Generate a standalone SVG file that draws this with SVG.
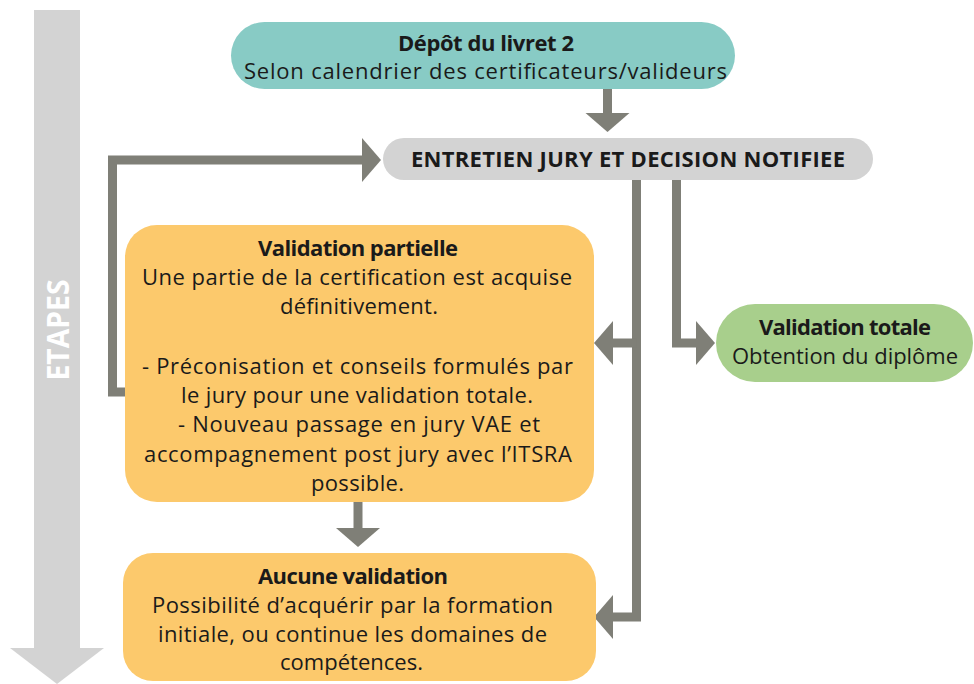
<svg xmlns="http://www.w3.org/2000/svg" width="974" height="684" viewBox="0 0 974 684">
<defs>
<marker id="ah" markerUnits="userSpaceOnUse" markerWidth="20" markerHeight="46" refX="0" refY="22" orient="auto">
<path d="M0,0 L19,22 L0,44 z" fill="#7f7f77"/>
</marker>
</defs>
<style>
text{font-family:"Open Sans","Liberation Sans",Arial,sans-serif;font-size:22px;fill:#1a1a1a;text-anchor:middle}
.b{font-weight:bold}
.conn{fill:none;stroke:#7f7f77;stroke-width:9;stroke-linejoin:miter}
</style>
<rect width="974" height="684" fill="#ffffff"/>
<g id="etapes">
<rect x="34" y="10" width="46" height="639" fill="#d3d3d3"/>
<polygon points="10,648 104,648 57,684" fill="#d3d3d3"/>
<text transform="translate(69,330) rotate(-90)" class="b" style="font-size:31px;fill:#ffffff" textLength="101" lengthAdjust="spacingAndGlyphs">ETAPES</text>
</g>
<g id="connectors">
<path class="conn" d="M607.5,89 L607.5,113" marker-end="url(#ah)"/>
<path class="conn" d="M125,392 L112.5,392 L112.5,160 L362,160" marker-end="url(#ah)"/>
<path class="conn" d="M636.5,180 L636.5,617 L613,617" marker-end="url(#ah)"/>
<path class="conn" d="M636.5,343 L613,343" marker-end="url(#ah)"/>
<path class="conn" d="M676.5,180 L676.5,343 L696,343" marker-end="url(#ah)"/>
<path class="conn" d="M358,502 L358,528" marker-end="url(#ah)"/>
</g>
<g id="depot">
<rect x="231" y="22" width="504" height="67" rx="33.5" fill="#88cbc5"/>
<text x="486" y="51" class="b" textLength="176">Dépôt du livret 2</text>
<text x="485.5" y="79" textLength="483">Selon calendrier des certificateurs/valideurs</text>
</g>
<g id="entretien">
<rect x="383" y="138" width="490" height="42" rx="21" fill="#d3d3d3"/>
<text x="628" y="167" class="b" textLength="434">ENTRETIEN JURY ET DECISION NOTIFIEE</text>
</g>
<g id="totale">
<rect x="716" y="304" width="257" height="78" rx="39" fill="#a8cf8c"/>
<text x="845" y="335" class="b" textLength="172">Validation totale</text>
<text x="845" y="364" textLength="226">Obtention du diplôme</text>
</g>
<g id="partielle">
<rect x="125" y="225" width="469" height="277" rx="32" fill="#fcc96c"/>
<text x="358" y="256" class="b" textLength="200">Validation partielle</text>
<text x="357" y="285" textLength="430">Une partie de la certification est acquise</text>
<text x="359" y="314" textLength="158">définitivement.</text>
<text x="357.5" y="374" textLength="431">- Préconisation et conseils formulés par</text>
<text x="357" y="403" textLength="352">le jury pour une validation totale.</text>
<text x="359" y="432" textLength="362">- Nouveau passage en jury VAE et</text>
<text x="358" y="462" textLength="428">accompagnement post jury avec l’ITSRA</text>
<text x="357.5" y="491" textLength="93">possible.</text>
</g>
<g id="aucune">
<rect x="123" y="553" width="473" height="128" rx="30" fill="#fcc96c"/>
<text x="353" y="584" class="b" textLength="190">Aucune validation</text>
<text x="352.5" y="613" textLength="401">Possibilité d’acquérir par la formation</text>
<text x="352.5" y="642" textLength="389">initiale, ou continue les domaines de</text>
<text x="351.5" y="670" textLength="143">compétences.</text>
</g>
</svg>
